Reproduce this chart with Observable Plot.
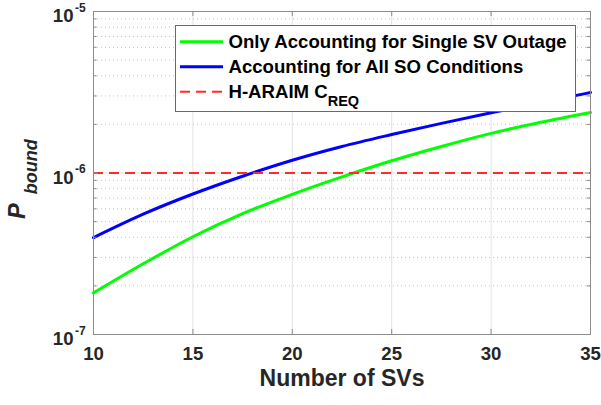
<!DOCTYPE html>
<html>
<head>
<meta charset="utf-8">
<script src="https://cdn.jsdelivr.net/npm/d3@7"></script>
<script src="https://cdn.jsdelivr.net/npm/@observablehq/plot@0.6"></script>
<style>
  html, body { margin: 0; padding: 0; background: #fff; }
  #chart svg { display: block; }
</style>
</head>
<body>
<div id="chart"></div>
<script>
// ---- data ----
const nSV = [10, 12.5, 15, 17.5, 20, 22.5, 25, 27.5, 30, 32.5, 35];
const singleSVOutage = [1.81e-7, 2.74e-7, 4.03e-7, 5.60e-7, 7.38e-7, 9.46e-7, 1.19e-6, 1.46e-6, 1.76e-6, 2.06e-6, 2.37e-6];
const allSOConditions = [3.98e-7, 5.56e-7, 7.41e-7, 9.55e-7, 1.20e-6, 1.46e-6, 1.73e-6, 2.03e-6, 2.36e-6, 2.73e-6, 3.15e-6];
const cReq = 1e-6;
const seriesNames = ["Only Accounting for Single SV Outage", "Accounting for All SO Conditions", "H-ARAIM C", "REQ"];
const xTicks = [10, 15, 20, 25, 30, 35];
const yMajor = [1e-7, 1e-6, 1e-5];
const yExponents = ["-7", "-6", "-5"];
const yMinor = [2e-7, 3e-7, 4e-7, 5e-7, 6e-7, 7e-7, 8e-7, 9e-7, 2e-6, 3e-6, 4e-6, 5e-6, 6e-6, 7e-6, 8e-6, 9e-6];
const xLabel = "Number of SVs";

// ---- layout ----
const W = 601, H = 405;
const mL = 93, mR = 11, mT = 11, mB = 71;
const pw = W - mL - mR, ph = H - mT - mB;
const font = "'Liberation Sans', Arial, Helvetica, sans-serif";
const txt = "#262626";
const axisCol = "#8c8c8c";

const green = nSV.map((n, i) => ({n, v: singleSVOutage[i]}));
const blue = nSV.map((n, i) => ({n, v: allSOConditions[i]}));

const svg = Plot.plot({
  width: W, height: H,
  marginLeft: mL, marginRight: mR, marginTop: mT, marginBottom: mB,
  style: {fontFamily: font, background: "#fff", color: txt},
  x: {domain: [10, 35], axis: null},
  y: {type: "log", domain: [1e-7, 1e-5], axis: null},
  marks: [
    Plot.ruleX(xTicks, {x: d => d, stroke: "#e3e3e3", strokeWidth: 1}),
    Plot.ruleY(yMinor, {y: d => d, stroke: "#c4c4c4", strokeWidth: 1, strokeDasharray: "1,3"}),
    Plot.ruleY(yMajor, {y: d => d, stroke: "#e3e3e3", strokeWidth: 1}),
    Plot.line(green, {x: "n", y: "v", stroke: "#00ff00", strokeWidth: 3, curve: "monotone-x"}),
    Plot.line(blue, {x: "n", y: "v", stroke: "#0000ff", strokeWidth: 3, curve: "monotone-x"}),
    Plot.ruleY([cReq], {y: d => d, stroke: "#ff2a2a", strokeWidth: 2, strokeDasharray: "10,6"}),
    // inward ticks
    Plot.tickX(xTicks, {x: d => d, insetTop: ph - 5, stroke: axisCol}),
    Plot.tickX(xTicks, {x: d => d, insetBottom: ph - 5, stroke: axisCol}),
    Plot.tickY(yMinor, {y: d => d, insetRight: pw - 3.5, stroke: axisCol}),
    Plot.tickY(yMinor, {y: d => d, insetLeft: pw - 3.5, stroke: axisCol}),
    Plot.tickY(yMajor, {y: d => d, insetRight: pw - 5, stroke: axisCol}),
    Plot.tickY(yMajor, {y: d => d, insetLeft: pw - 5, stroke: axisCol}),
    Plot.frame({stroke: axisCol, strokeWidth: 1}),
    // x tick labels
    Plot.text(xTicks, {x: d => d, frameAnchor: "bottom", dy: 25, text: d => String(d),
      fontSize: 18.6, fontWeight: "bold", fill: txt}),
    // y tick labels: base and exponent
    Plot.text(yMajor, {y: d => d, frameAnchor: "left", dx: -20, dy: 5, textAnchor: "end", text: () => "10",
      fontSize: 18.6, fontWeight: "bold", fill: txt}),
    Plot.text(yMajor, {y: d => d, frameAnchor: "left", dx: -18.5, dy: -3.5, textAnchor: "start",
      text: (d, i) => yExponents[i], fontSize: 12, fontWeight: "bold", fill: txt}),
    // x label
    Plot.text([xLabel], {frameAnchor: "bottom", dy: 51, text: d => d, fontSize: 23, fontWeight: "bold", fill: txt})
  ]
});

document.getElementById("chart").appendChild(svg);

// ---- y label with subscript and in-plot legend ----
const s = d3.select(svg);
const yl = s.append("text")
  .attr("transform", "translate(25,219) rotate(-90)")
  .attr("text-anchor", "start")
  .attr("fill", txt)
  .style("font-family", font)
  .style("font-weight", "bold")
  .style("font-style", "italic");
yl.append("tspan").style("font-size", "23.5px").text("P");
yl.append("tspan").style("font-size", "18px").attr("dx", 9).attr("dy", 11.5).text("bound");

const lg = s.append("g").attr("text-anchor", "start");
lg.append("rect").attr("x", 175.5).attr("y", 25.5).attr("width", 400).attr("height", 86)
  .attr("fill", "#fff").attr("stroke", "#6a6a6a").attr("stroke-width", 1);
const rows = [
  {y: 41.7, color: "#00ff00", dash: null, w: 3},
  {y: 66.7, color: "#0000ff", dash: null, w: 3},
  {y: 91.7, color: "#ff2a2a", dash: "10,6", w: 2}
];
rows.forEach((r, i) => {
  const ln = lg.append("line").attr("x1", 180).attr("x2", 223).attr("y1", r.y).attr("y2", r.y)
    .attr("stroke", r.color).attr("stroke-width", r.w);
  if (r.dash) ln.attr("stroke-dasharray", r.dash);
  const t = lg.append("text").attr("x", 228.5).attr("y", r.y + 6.5).attr("fill", "#000")
    .attr("text-anchor", "start")
    .style("font-family", font).style("font-weight", "bold").style("font-size", "18.6px");
  if (i < 2) t.text(seriesNames[i]);
  else {
    t.append("tspan").text(seriesNames[2]);
    t.append("tspan").attr("dy", 8).style("font-size", "14.5px").text(seriesNames[3]);
  }
});
</script>
</body>
</html>
